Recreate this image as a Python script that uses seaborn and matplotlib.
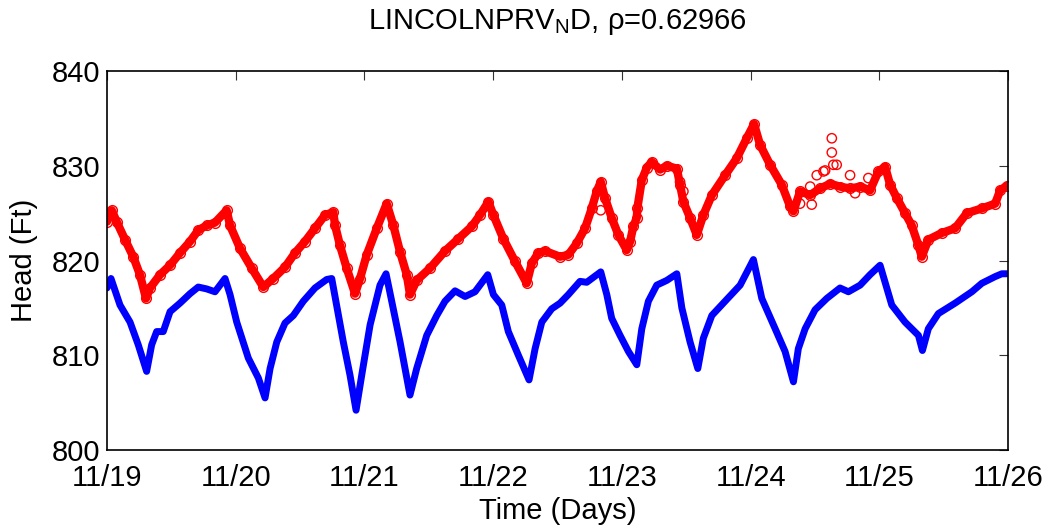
import matplotlib
matplotlib.use("Agg")
import matplotlib.pyplot as plt
import seaborn as sns
import pandas as pd

# ---- data (days since 11/19 00:00) ----
blue_t = [0.000, 0.031, 0.101, 0.179, 0.243, 0.308, 0.347, 0.386, 0.437, 0.490,
          0.567, 0.645, 0.709, 0.775, 0.839, 0.917, 0.956, 1.008, 1.098, 1.176,
          1.228, 1.267, 1.319, 1.383, 1.448, 1.525, 1.616, 1.707, 1.746, 1.836,
          1.888, 1.935, 1.979, 2.044, 2.121, 2.168, 2.212, 2.277, 2.354, 2.406,
          2.484, 2.562, 2.626, 2.704, 2.782, 2.859, 2.958, 3.002, 3.067, 3.118,
          3.196, 3.279, 3.326, 3.378, 3.455, 3.520, 3.584, 3.675, 3.727, 3.836,
          3.883, 3.921, 3.986, 4.051, 4.116, 4.155, 4.206, 4.271, 4.349, 4.427,
          4.466, 4.530, 4.590, 4.633, 4.699, 4.802, 4.919, 5.022, 5.087, 5.191,
          5.268, 5.333, 5.371, 5.424, 5.501, 5.592, 5.695, 5.760, 5.851, 5.928,
          6.006, 6.058, 6.097, 6.200, 6.304, 6.335, 6.381, 6.459, 6.589, 6.719,
          6.797, 6.900, 6.952, 6.991]
blue_head = [817.1, 818.1, 815.3, 813.5, 811.1, 808.3, 811.1, 812.5, 812.5, 814.6,
             815.5, 816.5, 817.2, 817.0, 816.7, 818.1, 816.4, 813.5, 809.7, 807.6,
             805.5, 808.6, 811.4, 813.4, 814.2, 815.7, 817.1, 818.0, 818.1, 811.4,
             807.9, 804.2, 807.9, 813.2, 817.4, 818.6, 815.7, 811.4, 805.8, 808.6,
             812.1, 814.2, 815.7, 816.8, 816.2, 816.7, 818.5, 816.4, 815.3, 812.5,
             810.0, 807.4, 810.7, 813.5, 814.9, 815.5, 816.4, 817.8, 817.7, 818.8,
             816.4, 813.9, 812.1, 810.4, 809.0, 812.8, 815.7, 817.4, 817.9, 818.6,
             815.0, 811.4, 808.6, 811.8, 814.2, 815.7, 817.4, 820.1, 816.0, 812.8,
             810.4, 807.2, 810.7, 812.8, 814.8, 816.0, 817.1, 816.7, 817.4, 818.5,
             819.5, 817.1, 815.3, 813.5, 812.1, 810.5, 812.8, 814.4, 815.5, 816.7,
             817.6, 818.3, 818.6, 818.6]

red_t = [0.000, 0.037, 0.075, 0.140, 0.204, 0.256, 0.303, 0.334, 0.412, 0.490,
         0.567, 0.645, 0.709, 0.775, 0.839, 0.930, 0.956, 1.033, 1.124, 1.214,
         1.292, 1.383, 1.461, 1.538, 1.616, 1.694, 1.758, 1.772, 1.810, 1.862,
         1.927, 1.966, 2.018, 2.096, 2.173, 2.225, 2.277, 2.329, 2.354, 2.406,
         2.510, 2.626, 2.730, 2.834, 2.898, 2.963, 3.002, 3.079, 3.170, 3.261,
         3.300, 3.351, 3.403, 3.520, 3.584, 3.649, 3.714, 3.766, 3.805, 3.836,
         3.869, 3.921, 3.973, 4.038, 4.064, 4.089, 4.116, 4.120, 4.155, 4.194,
         4.232, 4.297, 4.349, 4.427, 4.452, 4.478, 4.530, 4.582, 4.633, 4.699,
         4.802, 4.893, 4.970, 5.027, 5.074, 5.152, 5.242, 5.307, 5.333, 5.385,
         5.462, 5.540, 5.618, 5.695, 5.773, 5.851, 5.928, 5.993, 6.045, 6.084,
         6.136, 6.200, 6.252, 6.304, 6.330, 6.381, 6.485, 6.589, 6.680, 6.797,
         6.900, 6.939, 6.991]
red_head = [824.1, 825.3, 824.1, 822.2, 820.4, 818.5, 816.0, 817.1, 818.5, 819.5,
            820.8, 822.0, 823.2, 823.7, 824.0, 825.3, 823.7, 821.3, 819.2, 817.2,
            818.1, 819.3, 820.8, 822.0, 823.4, 824.8, 825.1, 823.7, 821.6, 819.2,
            816.5, 818.1, 820.6, 823.4, 826.0, 823.7, 820.9, 818.5, 816.4, 817.9,
            819.2, 821.0, 822.3, 823.6, 824.8, 826.2, 824.8, 822.3, 819.9, 817.6,
            819.7, 820.8, 821.0, 820.4, 820.6, 821.8, 823.4, 825.5, 827.3, 828.3,
            826.6, 824.5, 822.7, 821.1, 822.0, 823.6, 824.5, 825.5, 828.5, 829.8,
            830.4, 829.6, 830.0, 829.7, 828.0, 826.2, 824.5, 822.7, 824.8, 826.9,
            829.0, 830.8, 832.9, 834.4, 832.2, 830.1, 828.0, 825.7, 825.2, 827.3,
            826.9, 827.6, 828.1, 827.8, 827.6, 827.8, 827.4, 829.4, 829.9, 828.0,
            826.6, 825.0, 823.7, 821.6, 820.4, 822.2, 822.9, 823.4, 825.0, 825.5,
            826.0, 827.4, 827.9]

# scattered (noisy) red readings
red_scatter_t = [3.836, 4.452, 4.478, 5.384, 5.475, 5.463, 5.514, 5.566, 5.579,
                 5.631, 5.631, 5.643, 5.669, 5.773, 5.812, 5.915]
red_scatter_head = [825.3, 828.3, 827.3, 826.0, 825.9, 827.8, 829.0, 829.4, 829.5,
                    832.9, 831.4, 830.1, 830.1, 829.0, 827.1, 828.7]

day_ticks = [0, 1, 2, 3, 4, 5, 6, 7]
day_labels = ["11/19", "11/20", "11/21", "11/22", "11/23", "11/24", "11/25", "11/26"]
head_ticks = [800, 810, 820, 830, 840]

title_text = r"LINCOLNPRV$_{\mathrm{N}}$D, ρ=0.62966"
xlabel_text = "Time (Days)"
ylabel_text = "Head (Ft)"

# ---- style ----
sns.set_style("white")
plt.rcParams["font.family"] = ["Liberation Sans", "DejaVu Sans"]
plt.rcParams["mathtext.fontset"] = "custom"
plt.rcParams["mathtext.rm"] = "Liberation Sans"
plt.rcParams["mathtext.it"] = "Liberation Sans:italic"
plt.rcParams["text.color"] = "black"
plt.rcParams["axes.labelcolor"] = "black"
plt.rcParams["xtick.color"] = "black"
plt.rcParams["ytick.color"] = "black"

fig = plt.figure(figsize=(10.51, 5.29), dpi=100)
ax = fig.add_axes([0.1018, 0.1493, 0.8573, 0.7165])

blue_df = pd.DataFrame({"t": blue_t, "head": blue_head})
red_df = pd.DataFrame({"t": red_t, "head": red_head})
sc_df = pd.DataFrame({"t": red_scatter_t, "head": red_scatter_head})

sns.lineplot(data=red_df, x="t", y="head", ax=ax, color=(1, 0, 0), lw=6.0,
             marker="o", markersize=7, markerfacecolor="none",
             markeredgecolor=(1, 0, 0), markeredgewidth=1.0, sort=False,
             estimator=None)
sns.scatterplot(data=sc_df, x="t", y="head", ax=ax, marker="o", s=45,
                facecolors="none", edgecolor=(1, 0, 0), linewidth=1.0)
sns.lineplot(data=blue_df, x="t", y="head", ax=ax, color=(0, 0, 1), lw=5.0,
             sort=False, estimator=None, solid_capstyle="round",
             solid_joinstyle="round")

ax.set_xlim(0, 7)
ax.set_ylim(800, 840)
ax.set_xticks(day_ticks)
ax.set_xticklabels(day_labels)
ax.set_yticks(head_ticks)

ax.tick_params(axis="both", which="major", direction="in", length=6.5, width=0.8,
               labelsize=21, top=True, right=True, color="#333333", pad=5)
ax.tick_params(axis="x", pad=10)
for s in ax.spines.values():
    s.set_visible(True)
    s.set_color("black")
    s.set_linewidth(1.2)

ax.set_xlabel(xlabel_text, fontsize=21, labelpad=4)
ax.set_ylabel(ylabel_text, fontsize=21, labelpad=10)
ax.set_title(title_text, fontsize=21, pad=30)

fig.savefig("out.png", dpi=100)
